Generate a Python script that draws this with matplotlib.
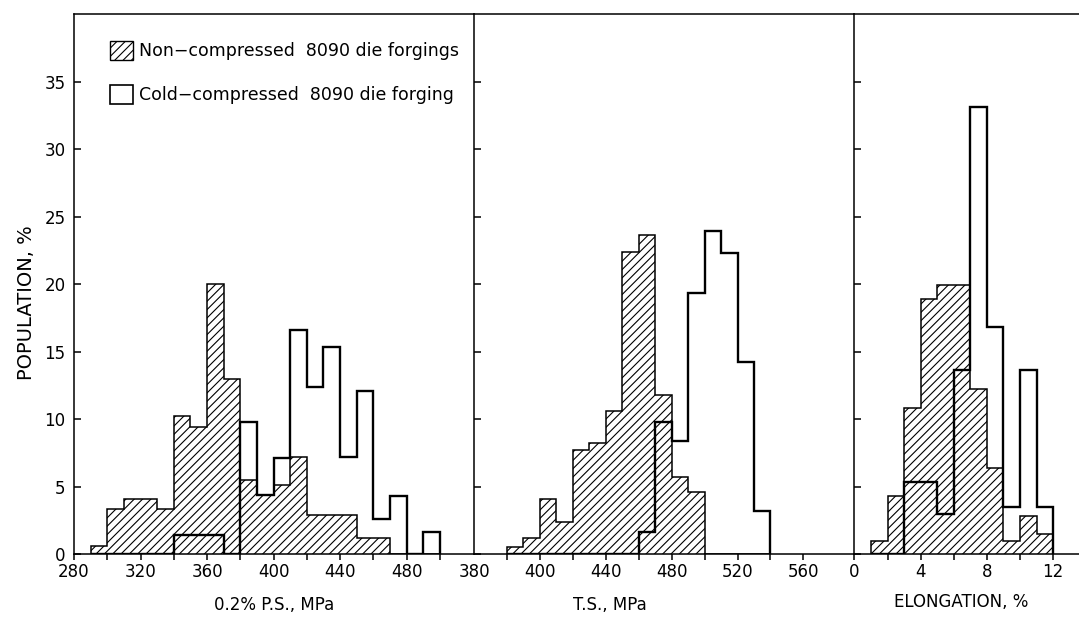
import numpy as np
import matplotlib.pyplot as plt
from matplotlib.patches import Patch
from matplotlib.transforms import offset_copy

plt.rcParams['font.family'] = ['DejaVu Sans']
plt.rcParams['font.size'] = 12
plt.rcParams['hatch.linewidth'] = 0.8

# 0.2% proof stress, MPa (10 MPa bins)
ps_edges = np.arange(290, 510, 10)
ps_non = [0.6, 3.3, 4.1, 4.1, 3.3, 10.2, 9.4, 20.0, 13.0, 5.5, 4.4,
          5.1, 7.2, 2.9, 2.9, 2.9, 1.2, 1.2, 0, 0, 0]
ps_cold = [0, 0, 0, 0, 0, 1.4, 1.4, 1.4, 0, 9.8, 4.4,
           7.1, 16.6, 12.4, 15.3, 7.2, 12.1, 2.6, 4.3, 0, 1.6]

# tensile strength, MPa
ts_edges = np.arange(380, 550, 10)
ts_non = [0.5, 1.2, 4.1, 2.4, 7.7, 8.2, 10.6, 22.4, 23.6, 11.8, 5.7, 4.6,
          0, 0, 0, 0]
ts_cold = [0, 0, 0, 0, 0, 0, 0, 0, 1.6, 9.8, 8.4, 19.3, 23.9, 22.3, 14.2, 3.2]

# elongation, %
el_edges = np.arange(1, 13, 1)
el_non = [1.0, 4.3, 10.8, 18.9, 19.9, 19.9, 12.2, 6.4, 1.0, 2.8, 1.5]
el_cold = [0, 0, 5.3, 5.3, 3.0, 13.6, 33.1, 16.8, 3.5, 13.6, 3.5]

labels = ['Non\u2212compressed  8090 die forgings',
          'Cold\u2212compressed  8090 die forging']

fig = plt.figure(figsize=(10.79, 6.17), dpi=100)
L, B, T = 0.0686, 0.1021, 0.9773
x1, x2 = 0.4393, 0.7919
ax1 = fig.add_axes([L, B, x1 - L, T - B])
ax2 = fig.add_axes([x1, B, x2 - x1, T - B], sharey=ax1)
ax3 = fig.add_axes([x2, B, 1 - x2, T - B], sharey=ax1)

panels = [(ax1, ps_edges, ps_non, ps_cold),
          (ax2, ts_edges, ts_non, ts_cold),
          (ax3, el_edges, el_non, el_cold)]

for ax, edges, non, cold in panels:
    ax.stairs(non, edges, fill=True, facecolor='white', edgecolor='black',
              hatch='////', lw=1.1)
    ax.stairs(cold, edges, fill=False, color='black', lw=1.7)
    ax.spines['right'].set_visible(False)
    for s in ['left', 'top', 'bottom']:
        ax.spines[s].set_linewidth(1.1)
    ax.tick_params(axis='y', direction='in', length=5, width=1.1, pad=6)
    ax.tick_params(axis='x', which='both', direction='out', length=4.3,
                   width=1.1, pad=2)

ax1.set_ylim(0, 40)
ax1.set_yticks(range(0, 40, 5))
ax2.tick_params(axis='y', labelleft=False)
ax3.tick_params(axis='y', labelleft=False)

ax1.set_xlim(280, 520.5)
ax1.set_xticks(range(280, 500, 40))
ax1.set_xticks(range(300, 520, 40), minor=True)

ax2.set_xlim(360, 591)
ax2.set_xticks(range(400, 580, 40))
ax2.set_xticks(range(380, 560, 40), minor=True)
trans = offset_copy(ax2.transAxes, fig=fig, x=0, y=-(4.3 + 2), units='points')
ax2.text(0, 0, '380', transform=trans, ha='center', va='top')

ax3.set_xlim(0, 13.56)
ax3.set_xticks([0, 4, 8, 12])
ax3.set_xticks([2, 6, 10], minor=True)

ax1.set_ylabel('POPULATION, %', fontsize=14)
ax1.yaxis.set_label_coords(-0.095, 0.466)
ax1.set_xlabel('0.2% P.S., MPa')
ax1.xaxis.set_label_coords(0.5, -0.078)
ax2.set_xlabel('T.S., MPa')
ax2.xaxis.set_label_coords(0.358, -0.078)
ax3.set_xlabel('ELONGATION, %')
ax3.xaxis.set_label_coords(0.474, -0.072)

handles = [Patch(facecolor='white', edgecolor='black', hatch='////', lw=1),
           Patch(facecolor='white', edgecolor='black', lw=1.2)]
ax1.legend(handles, labels, loc='upper left', bbox_to_anchor=(0.09, 0.95),
           frameon=False, borderpad=0, borderaxespad=0, handlelength=1.35,
           handleheight=1.3, handletextpad=0.3, labelspacing=1.4,
           fontsize=12.5)

fig.savefig('out.png', dpi=100)
